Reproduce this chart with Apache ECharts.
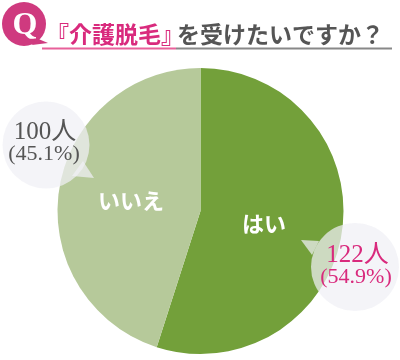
<!DOCTYPE html>
<html><head><meta charset="utf-8">
<style>html,body{margin:0;padding:0;background:#fff}#c{width:400px;height:360px}</style>
<script src="https://cdn.jsdelivr.net/npm/echarts@6/dist/echarts.min.js"></script>
</head><body><div id="c"></div>
<script>
const categories = ['はい', 'いいえ'];
const counts = [122, 100];
const shareLabels = ['(54.9%)', '(45.1%)'];
const countLabels = ['122人', '100人'];
const colors = ['#73a03a', '#b6c99a'];
const titlePink = '『介護脱毛』';
const titleGrey = 'を受けたいですか？';
const serif = '"Liberation Serif","Noto Sans CJK JP",serif';
const jp = '"Noto Sans CJK JP",sans-serif';
const labelOffsets = [[-10,1],[4,1]];
const chart = echarts.init(document.getElementById('c'), null, {renderer:'canvas'});
const bubble = 'rgba(240,240,245,0.72)';
const Z = 20;
chart.setOption({
  animation:false,
  series:[{
    type:'pie', center:[200.5,211], radius:[0,143], startAngle:90, clockwise:true,
    silent:true, labelLine:{show:false},
    label:{show:true, position:'inside', formatter:'{b}', color:'#fff', fontFamily:jp, fontWeight:'bold', fontSize:22},
    itemStyle:{borderWidth:0},
    data:categories.map((n,i)=>({name:n,value:counts[i],itemStyle:{color:colors[i]},label:{offset:labelOffsets[i]}}))
  }],
  graphic:[
    {type:'circle',z:Z,silent:true,shape:{cx:46,cy:145,r:43.5},style:{fill:bubble}},
    {type:'polygon',z:Z,silent:true,shape:{points:[[83,161],[94,178],[72,176]]},style:{fill:bubble}},
    {type:'circle',z:Z,silent:true,shape:{cx:355,cy:267,r:44},style:{fill:bubble}},
    {type:'polygon',z:Z,silent:true,shape:{points:[[301,240],[319,241],[312,255]]},style:{fill:bubble}},
    {type:'text',z:Z+1,silent:true,style:{x:45,y:132,text:countLabels[1],align:'center',verticalAlign:'middle',fill:'#555',fontSize:25,fontFamily:serif}},
    {type:'text',z:Z+1,silent:true,style:{x:44,y:154,text:shareLabels[1],align:'center',verticalAlign:'middle',fill:'#555',fontSize:22,fontFamily:serif}},
    {type:'text',z:Z+1,silent:true,style:{x:357.5,y:255,text:countLabels[0],align:'center',verticalAlign:'middle',fill:'#d92a7d',fontSize:25,fontFamily:serif}},
    {type:'text',z:Z+1,silent:true,style:{x:356,y:277,text:shareLabels[0],align:'center',verticalAlign:'middle',fill:'#d92a7d',fontSize:22,fontFamily:serif}},
    {type:'circle',z:Z,silent:true,shape:{cx:24,cy:24,r:22},style:{fill:'#cf3a7f'}},
    {type:'polygon',z:Z,silent:true,shape:{points:[[36,38],[48,43],[32,45]]},style:{fill:'#cf3a7f'}},
    {type:'text',z:Z+1,silent:true,style:{x:25,y:26,text:'Q',align:'center',verticalAlign:'middle',fill:'#fff',fontSize:32,fontWeight:'bold',fontFamily:serif}},
    {type:'rect',z:Z,silent:true,shape:{x:42,y:47.5,width:134,height:2},style:{fill:'#e8609a'}},
    {type:'rect',z:Z,silent:true,shape:{x:176,y:47.5,width:216,height:2},style:{fill:'#888'}},
    {type:'text',z:Z+1,silent:true,style:{x:46,y:34,text:titlePink,align:'left',verticalAlign:'middle',fill:'#d92a7d',fontSize:23,fontWeight:'bold',fontFamily:jp}},
    {type:'text',z:Z+1,silent:true,style:{x:177,y:34,text:titleGrey,align:'left',verticalAlign:'middle',fill:'#555',fontSize:23,fontWeight:'bold',fontFamily:jp}}
  ]
});
</script></body></html>
